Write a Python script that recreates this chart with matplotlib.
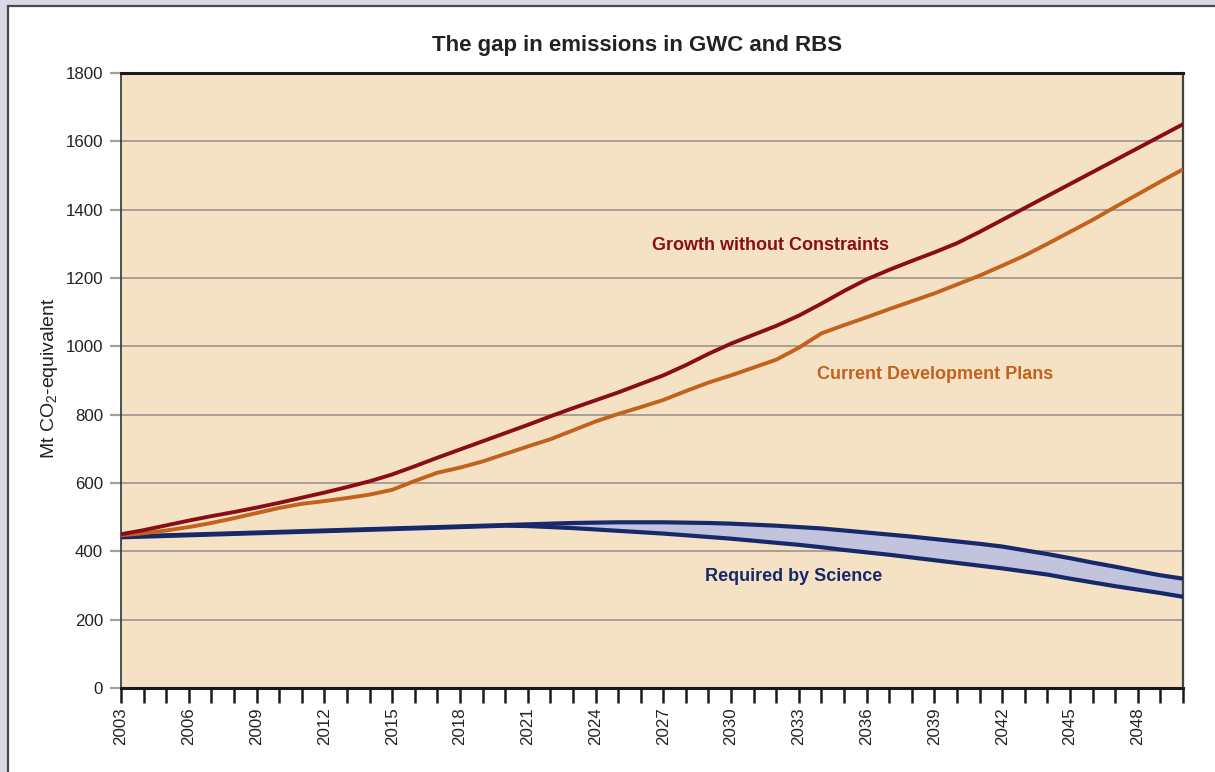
import matplotlib
matplotlib.use("Agg")
import matplotlib.pyplot as plt
from matplotlib.patches import Rectangle
import numpy as np

FONT = ['Liberation Sans', 'DejaVu Sans']
plt.rcParams['font.family'] = FONT
plt.rcParams['mathtext.fontset'] = 'custom'
plt.rcParams['mathtext.rm'] = 'Liberation Sans'
plt.rcParams['mathtext.it'] = 'Liberation Sans'

years = list(range(2003, 2051))

growth_without_constraints = [
    450, 462, 476, 490, 503, 515, 528, 542, 557, 572, 588, 605, 625, 649, 674, 698,
    722, 746, 770, 795, 819, 842, 865, 890, 915, 945, 978, 1008, 1034, 1060, 1090, 1125,
    1162, 1196, 1224, 1250, 1275, 1302, 1335, 1370, 1405, 1440, 1475, 1510, 1545, 1580, 1615, 1650]

current_development_plans = [
    447, 453, 461, 471, 483, 497, 512, 527, 539, 547, 556, 566, 580, 606, 630, 645,
    663, 685, 707, 728, 754, 780, 802, 822, 843, 869, 894, 915, 938, 961, 996, 1038,
    1062, 1085, 1109, 1132, 1155, 1181, 1207, 1236, 1266, 1300, 1335, 1370, 1408, 1445, 1482, 1518]

rbs_upper = [
    443, 445, 447, 449, 451, 453, 455, 457, 459, 461, 463, 465, 467, 469, 471, 473,
    475, 477, 479, 481, 483, 484, 485, 485, 485, 484, 483, 481, 478, 475, 471, 467,
    461, 455, 449, 443, 436, 429, 422, 414, 403, 392, 380, 367, 355, 342, 330, 320]

rbs_lower = [
    441, 443, 445, 447, 449, 451, 453, 455, 457, 459, 461, 463, 465, 467, 469, 471,
    473, 475, 474, 471, 468, 464, 460, 456, 452, 447, 442, 437, 431, 425, 419, 412,
    404, 397, 390, 382, 374, 366, 358, 350, 341, 332, 320, 309, 298, 288, 278, 267]

yticks = [0, 200, 400, 600, 800, 1000, 1200, 1400, 1600, 1800]
xlabel_years = list(range(2003, 2050, 3))

title = "The gap in emissions in GWC and RBS"
ylabel = "Mt CO$_2$-equivalent"

C_GWC = '#8a0c16'
C_CDP = '#c2621c'
C_RBS = '#17296b'
C_FILL = '#c2c3dd'
C_BG = '#f5e2c5'
C_GRID = '#a89f94'

W, H = 1215, 772
fig = plt.figure(figsize=(W / 100, H / 100), dpi=100)
fig.patch.set_facecolor('#d9d9e5')

# white panel with dark border (left/top)
panel = Rectangle((8 / W, -0.1), 1.2, 1 - 6 / H + 0.1, transform=fig.transFigure,
                  facecolor='white', edgecolor='#4a4a4a', linewidth=1.6, zorder=-10)
fig.patches.append(panel)

ax = fig.add_axes([121 / W, 1 - 688 / H, (1183 - 121) / W, (688 - 73) / H])
ax.set_zorder(1)
ax.set_facecolor(C_BG)

ax.set_xlim(2003, 2050)
ax.set_ylim(0, 1800)

ax.set_yticks(yticks)
ax.set_yticklabels([str(v) for v in yticks], fontsize=12.2, color='#222222')
ax.yaxis.grid(True, color=C_GRID, linewidth=1.4, zorder=1)
ax.set_axisbelow(True)
ax.tick_params(axis='y', length=8, width=1.6, color=C_GRID, pad=5)
yt = ax.yaxis.get_major_ticks()
yt[0].tick1line.set_color('#1a1a1a')
yt[-1].tick1line.set_color('#1a1a1a')

ax.set_xticks(years)
ax.set_xticklabels([str(y) if y in xlabel_years else '' for y in years],
                   rotation=90, fontsize=12.2, color='#222222')
ax.tick_params(axis='x', length=11, width=1.8, color='#1a1a1a', pad=3)

for side in ['top', 'bottom']:
    ax.spines[side].set_color('#1a1a1a')
    ax.spines[side].set_linewidth(2.2)
ax.spines['left'].set_color('#333333')
ax.spines['left'].set_linewidth(1.2)
ax.spines['right'].set_color('#444444')
ax.spines['right'].set_linewidth(1.6)

ax.fill_between(years, rbs_lower, rbs_upper, color=C_FILL, zorder=2, linewidth=0)
ax.plot(years, rbs_upper, color=C_RBS, lw=3.0, zorder=3, solid_capstyle='butt')
ax.plot(years, rbs_lower, color=C_RBS, lw=3.0, zorder=3, solid_capstyle='butt')
ax.plot(years, current_development_plans, color=C_CDP, lw=2.8, zorder=4, solid_capstyle='butt')
ax.plot(years, growth_without_constraints, color=C_GWC, lw=2.8, zorder=5, solid_capstyle='butt')

ax.text(2031.75, 1294, "Growth without Constraints", color=C_GWC, fontsize=13,
        fontweight='bold', ha='center', va='center')
ax.text(2039.05, 919, "Current Development Plans", color=C_CDP, fontsize=13,
        fontweight='bold', ha='center', va='center')
ax.text(2032.75, 325, "Required by Science", color=C_RBS, fontsize=13,
        fontweight='bold', ha='center', va='center')

fig.text(637 / W, 1 - 45 / H, title, fontsize=16, fontweight='bold', color='#222222',
         ha='center', va='center')
fig.text(50 / W, 1 - 378 / H, ylabel, fontsize=14, color='#222222', rotation=90,
         ha='center', va='center')

fig.savefig('out.png', dpi=100, facecolor=fig.get_facecolor())
